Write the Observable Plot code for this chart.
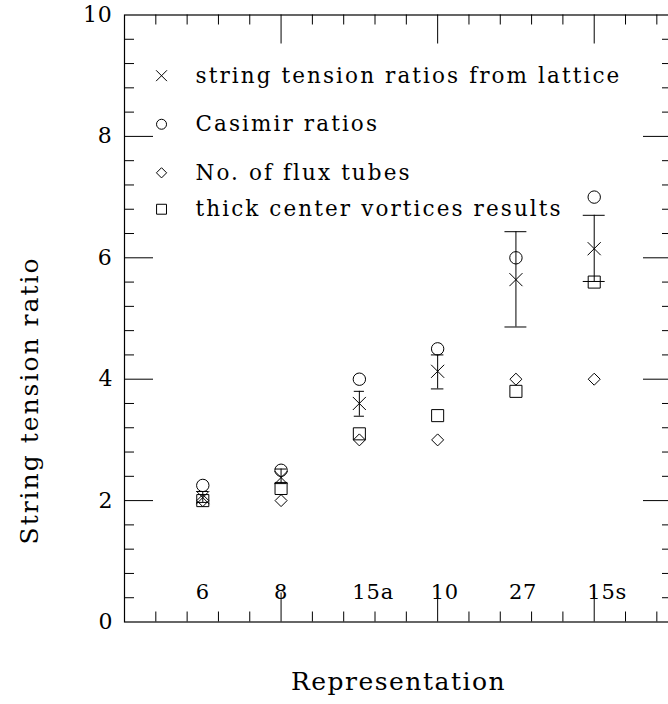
<!DOCTYPE html>
<html><head><meta charset="utf-8">
<script src="https://cdn.jsdelivr.net/npm/d3@7"></script>
<script src="https://cdn.jsdelivr.net/npm/@observablehq/plot@0.6"></script>
<style>html,body{margin:0;padding:0;background:#fff;overflow:hidden}</style>
</head><body><div id="chart"></div>
<script>
// ---- data ----
const reps = ["6", "8", "15a", "10", "27", "15s"];
const repPos = [1, 2, 3, 4, 5, 6];
const lattice   = [2.05, 2.38, 3.60, 4.13, 5.64, 6.15];
const latticeLo = [1.97, 2.28, 3.39, 3.84, 4.86, 5.61];
const latticeHi = [2.15, 2.52, 3.80, 4.40, 6.43, 6.70];
const casimir   = [2.25, 2.50, 4.00, 4.50, 6.00, 7.00];
const fluxTubes = [2, 2, 3, 3, 4, 4];
const vortices  = [2.00, 2.20, 3.10, 3.40, 3.80, 5.60];
const yTickLabels = [0, 2, 4, 6, 8, 10];
const legendLabels = ["string tension ratios from lattice", "Casimir ratios", "No. of flux tubes", "thick center vortices results"];
const legendSymbols = ["times", "circle", "diamond2", "square"];
const xTitle = "Representation";
const yTitle = "String tension ratio";

// ---- layout / style ----
const W = 668, H = 704;
const mL = 124, mT = 14.5, mB = 82.5, mR = -4;
const FW = W - mR - mL, FH = H - mT - mB;
const majorLen = 29, minorLen = 10;
const capHalf = [0.075, 0.075, 0.065, 0.08, 0.14, 0.14];
const legendY = [9.0, 8.2, 7.4, 6.8];
const legendSymX = 0.473, legendTextX = 0.907;
const legendR = {times: 5, circle: 5, diamond2: 4.6, square: 5.6};
const ink = "#000";
const font = "DejaVu Serif";

const xMajor = [2, 4, 6];
const xMinor = d3.range(1, 18).filter(i => i % 5 !== 0).map(i => i * 0.4);
const yMajor = [2, 4, 6, 8];
const yMinor = d3.range(1, 25).filter(i => i % 5 !== 0).map(i => i * 0.4);
const idx = d3.range(reps.length);
const lidx = d3.range(legendLabels.length);

const tk = {stroke: ink, strokeWidth: 1};

const plot = Plot.plot({
  width: W, height: H,
  marginLeft: mL, marginTop: mT, marginBottom: mB, marginRight: mR,
  x: {domain: [0, 7], axis: null},
  y: {domain: [0, 10], axis: null},
  style: {fontFamily: font, fontSize: "21px", color: ink, background: "#fff"},
  marks: [
    Plot.frame({stroke: ink, strokeWidth: 1.2}),
    // x ticks bottom/top
    Plot.tickX(xMajor, {x: d => d, insetTop: FH - majorLen, ...tk}),
    Plot.tickX(xMinor, {x: d => d, insetTop: FH - minorLen, ...tk}),
    Plot.tickX(xMajor, {x: d => d, insetBottom: FH - majorLen, ...tk}),
    Plot.tickX(xMinor, {x: d => d, insetBottom: FH - minorLen, ...tk}),
    // y ticks left/right
    Plot.tickY(yMajor, {y: d => d, insetRight: FW - majorLen, ...tk}),
    Plot.tickY(yMinor, {y: d => d, insetRight: FW - minorLen, ...tk}),
    Plot.tickY(yMajor, {y: d => d, insetLeft: FW - majorLen, ...tk}),
    Plot.tickY(yMinor, {y: d => d, insetLeft: FW - minorLen, ...tk}),
    // y tick labels
    Plot.text(yTickLabels, {y: d => d, text: d => String(d), frameAnchor: "left", textAnchor: "end", dx: -12, fontSize: 22, fill: ink}),
    // x category labels inside frame
    Plot.text(idx, {x: i => repPos[i], text: i => reps[i], frameAnchor: "bottom", lineAnchor: "bottom", textAnchor: "start", dx: -7, dy: -23, fontSize: 21, fill: ink}),
    // axis titles
    Plot.text([xTitle], {text: d => d, frameAnchor: "bottom", textAnchor: "middle", dy: 68, fontSize: 25, fill: ink}),
    Plot.text([yTitle], {text: d => d, frameAnchor: "left", textAnchor: "middle", rotate: -90, dx: -95, dy: 82, fontSize: 25, fill: ink}),
    // error bars
    Plot.ruleX(idx, {x: i => repPos[i], y1: i => latticeLo[i], y2: i => latticeHi[i], ...tk}),
    Plot.ruleY(idx, {y: i => latticeHi[i], x1: i => repPos[i] - capHalf[i], x2: i => repPos[i] + capHalf[i], ...tk}),
    Plot.ruleY(idx, {y: i => latticeLo[i], x1: i => repPos[i] - capHalf[i], x2: i => repPos[i] + capHalf[i], ...tk}),
    // series
    Plot.dot(idx, {x: i => repPos[i], y: i => lattice[i], symbol: "times", r: 6, stroke: ink, fill: "none", strokeWidth: 1}),
    Plot.dot(idx, {x: i => repPos[i], y: i => casimir[i], symbol: "circle", r: 6.2, stroke: ink, fill: "none", strokeWidth: 1}),
    Plot.dot(idx, {x: i => repPos[i], y: i => fluxTubes[i], symbol: "diamond2", r: 5.4, stroke: ink, fill: "none", strokeWidth: 1}),
    Plot.dot(idx, {x: i => repPos[i], y: i => vortices[i], symbol: "square", r: 6.8, stroke: ink, fill: "none", strokeWidth: 1}),
    // legend
    ...lidx.map(i => Plot.dot([i], {x: () => legendSymX, y: () => legendY[i], symbol: legendSymbols[i], r: legendR[legendSymbols[i]], stroke: ink, fill: "none", strokeWidth: 1})),
    Plot.text(lidx, {x: () => legendTextX, y: i => legendY[i], text: i => legendLabels[i], textAnchor: "start", fontSize: 21.5, fill: ink})
  ]
});

const svg = d3.select(plot);
svg.selectAll("text").filter(function() { return legendLabels.includes(this.textContent); }).style("letter-spacing", "2.1px");
svg.selectAll("text").filter(function() { return this.textContent === xTitle; }).style("letter-spacing", "1.5px");
svg.selectAll("text").filter(function() { return this.textContent === yTitle; }).style("letter-spacing", "2px");
svg.selectAll("text").filter(function() { return reps.includes(this.textContent); }).style("letter-spacing", "0.8px");
document.getElementById("chart").appendChild(plot);
</script>
</body></html>
